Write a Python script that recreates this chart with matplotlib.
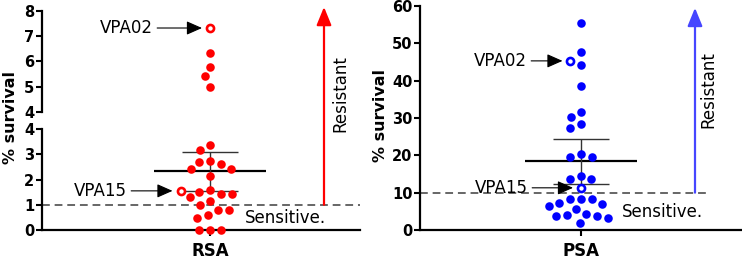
import numpy as np
import matplotlib
matplotlib.use("Agg")
import matplotlib.pyplot as plt

# ---- data (% survival per isolate) ----
rsa_name = "RSA"
rsa_others = [6.32, 5.79, 5.40, 4.98, 3.35, 3.18, 2.73, 2.71, 2.63, 2.43, 2.43,
              2.13, 1.60, 1.52, 1.44, 1.43, 1.29, 1.13, 1.00, 0.80, 0.80, 0.60,
              0.49, 0.0, 0.0, 0.0]
rsa_marked = ["VPA02", "VPA15"]
rsa_marked_values = [7.31, 1.55]
rsa_cutoff = 1.0

psa_name = "PSA"
psa_others = [55.5, 47.8, 44.2, 38.6, 31.7, 30.4, 28.4, 27.4, 20.3, 19.6, 19.6,
              14.5, 13.6, 13.6, 8.3, 8.3, 8.3, 7.3, 6.9, 6.3, 5.6, 4.2, 4.0,
              3.8, 3.75, 3.1, 1.8]
psa_marked = ["VPA02", "VPA15"]
psa_marked_values = [45.3, 11.3]
psa_cutoff = 10.0

# two-sided 95% t critical values by degrees of freedom
t975 = {27: 2.052, 28: 2.048}

W, H, DPI = 742, 260, 100
fig = plt.figure(figsize=(W / DPI, H / DPI), dpi=DPI)


def box(x0, y_top, x1, y_bot):
    return [x0 / W, 1 - y_bot / H, (x1 - x0) / W, (y_bot - y_top) / H]


def style(ax, ticks, show_x=True):
    ax.spines['top'].set_visible(False)
    ax.spines['right'].set_visible(False)
    ax.spines['left'].set_linewidth(1.6)
    ax.spines['bottom'].set_linewidth(1.6)
    ax.set_yticks(ticks)
    ax.set_yticklabels([str(t) for t in ticks], fontweight='bold', fontsize=10.5)
    ax.tick_params(axis='y', length=4, width=1.5, pad=1.5)
    ax.tick_params(axis='x', length=4, width=1.5, pad=5)
    if not show_x:
        ax.spines['bottom'].set_visible(False)
        ax.tick_params(axis='x', bottom=False, labelbottom=False)
    ax.patch.set_alpha(0)


def mean_ci(v):
    v = np.asarray(v, dtype=float)
    n = len(v)
    m = v.mean()
    h = t975[n - 1] * v.std(ddof=1) / np.sqrt(n)
    return m, m - h, m + h


def swarm_x(ax, values, n_last=0, diam=11.0):
    # simple beeswarm in pixel space, returns x positions in data units.
    # the first n_last values are placed after all others (labelled isolates)
    values = np.asarray(values, dtype=float)
    if len(values) == 0:
        return values
    xy = ax.transData.transform(np.column_stack([np.zeros(len(values)), values]))
    y = xy[:, 1]
    xc = xy[0, 0]
    steps = np.arange(0.5, 60, 0.5)
    cand = np.concatenate([[0.0], np.ravel(np.column_stack([-steps, steps]))])
    late = np.arange(len(values)) < n_last
    order = np.lexsort((-y, late))
    px, py = [], []
    off = np.zeros(len(values))
    for i in order:
        for c in cand:
            if all((c - a) ** 2 + (y[i] - b) ** 2 >= diam ** 2 for a, b in zip(px, py)):
                break
        off[i] = c
        px.append(c)
        py.append(y[i])
    pix = np.column_stack([xc + off, y])
    return ax.transData.inverted().transform(pix)[:, 0]


def draw_points(ax, vals, color, n_marked):
    # first n_marked entries are open circles
    xs = swarm_x(ax, vals, n_marked)
    ax.scatter(xs[n_marked:], vals[n_marked:], s=38, color=color, linewidths=0,
               zorder=4, clip_on=False)
    ax.scatter(xs[:n_marked], vals[:n_marked], s=26, facecolor='white',
               edgecolor=color, linewidths=1.9, zorder=5, clip_on=False)
    return xs


def draw_stats(ax, vals):
    m, lo, hi = mean_ci(vals)
    ax.hlines(m, -0.56, 0.56, color='black', lw=1.6, zorder=3)
    ax.hlines([lo, hi], -0.28, 0.28, color='#333333', lw=1.0, zorder=3)
    ax.vlines(0, lo, hi, color='#333333', lw=1.0, zorder=3)


def label_point(ax, name, x, y, text_x):
    ax.annotate(name, xy=(x - 0.08, y), xytext=(text_x, y), ha='right', va='center',
                fontsize=12, zorder=6,
                arrowprops=dict(arrowstyle='-|>,head_length=0.95,head_width=0.42',
                                color='black', lw=0.8, shrinkA=1, shrinkB=0,
                                mutation_scale=10))


# ---------------- left panel: RSA with broken axis ----------------
ax_lo = fig.add_axes(box(42, 129, 360, 230))
ax_hi = fig.add_axes(box(42, 10.5, 360, 112))
ax_lo.set_xlim(-1.68, 1.50)
ax_hi.set_xlim(-1.68, 1.50)
ax_lo.set_ylim(0, 4)
ax_hi.set_ylim(4, 8)
style(ax_lo, [0, 1, 2, 3, 4])
style(ax_hi, [4, 5, 6, 7, 8], show_x=False)
ax_lo.set_xticks([0])
ax_lo.set_xticklabels([rsa_name], fontweight='bold', fontsize=12)

rsa_all = np.array(rsa_marked_values + rsa_others)
rsa_is_marked = np.arange(len(rsa_all)) < len(rsa_marked_values)
hi_mask = rsa_all >= 4
xs_hi = draw_points(ax_hi, rsa_all[hi_mask], 'red', int((rsa_is_marked & hi_mask).sum()))
xs_lo = draw_points(ax_lo, rsa_all[~hi_mask], 'red', int((rsa_is_marked & ~hi_mask).sum()))
draw_stats(ax_lo, rsa_all)

ax_lo.axhline(rsa_cutoff, color='#666666', lw=1.4, dashes=(4, 2.5), zorder=2)
ax_lo.text(0.35, 0.47, 'Sensitive.', fontsize=12, ha='left', va='center')
ax_lo.annotate('', xy=(1.14, 8.14), xycoords=ax_hi.transData,
               xytext=(1.14, rsa_cutoff), textcoords=ax_lo.transData,
               annotation_clip=False,
               arrowprops=dict(arrowstyle='-|>,head_length=1.1,head_width=0.45',
                               color='red', lw=1.6, shrinkA=0, shrinkB=0,
                               mutation_scale=10))
fig.text(340 / W, 1 - 94 / H, 'Resistant', rotation=90, ha='center', va='center',
         fontsize=12)
label_point(ax_hi, rsa_marked[0], xs_hi[0], rsa_marked_values[0], -0.57)
label_point(ax_lo, rsa_marked[1], xs_lo[0], rsa_marked_values[1], -0.83)
fig.text(11 / W, 1 - 118 / H, '% survival', rotation=90, ha='center', va='center',
         fontsize=11.5, fontweight='bold')

# ---------------- right panel: PSA ----------------
ax_r = fig.add_axes(box(420, 6, 741, 230))
ax_r.set_xlim(-1.61, 1.60)
ax_r.set_ylim(0, 60)
style(ax_r, [0, 10, 20, 30, 40, 50, 60])
ax_r.set_xticks([0])
ax_r.set_xticklabels([psa_name], fontweight='bold', fontsize=12)

psa_all = np.array(psa_marked_values + psa_others)
xs_r = draw_points(ax_r, psa_all, 'blue', len(psa_marked_values))
draw_stats(ax_r, psa_all)

ax_r.hlines(psa_cutoff, -1.61, 1.26, color='#666666', lw=1.4, linestyles=(0, (4, 2.5)),
            zorder=2)
ax_r.text(0.41, 4.9, 'Sensitive.', fontsize=12, ha='left', va='center')
ax_r.annotate('', xy=(1.14, 59.5), xytext=(1.14, psa_cutoff), annotation_clip=False,
              arrowprops=dict(arrowstyle='-|>,head_length=1.1,head_width=0.45',
                              color='#4646ff', lw=1.6, shrinkA=0, shrinkB=0,
                              mutation_scale=10))
fig.text(708 / W, 1 - 90 / H, 'Resistant', rotation=90, ha='center', va='center',
         fontsize=12)
label_point(ax_r, psa_marked[0], xs_r[0], psa_marked_values[0], -0.54)
label_point(ax_r, psa_marked[1], xs_r[1], psa_marked_values[1], -0.53)
fig.text(380 / W, 1 - 116 / H, '% survival', rotation=90, ha='center', va='center',
         fontsize=11.5, fontweight='bold')

fig.savefig('out.png', dpi=DPI)
